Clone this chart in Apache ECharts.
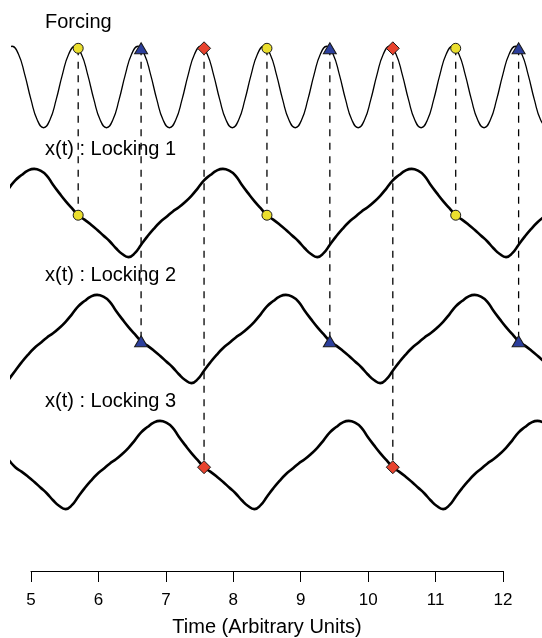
<!DOCTYPE html>
<html>
<head>
<meta charset="utf-8">
<script src="https://cdn.jsdelivr.net/npm/echarts@6/dist/echarts.min.js"></script>
<style>
  html, body { margin: 0; padding: 0; background: #ffffff; }
  #chart { width: 542px; height: 638px; }
</style>
</head>
<body>
<div id="chart"></div>
<script>
// ---- sampled signals (arbitrary amplitude units) ----
// sampling grid: t = start + i * step
const STEP = 0.0933333;
const FORCING_START = 4.62667;
const LOCKING_START = 4.67333;

const forcing = [
  0.81,
  1.00, 0.81, 0.31, -0.31, -0.81, -1.00, -0.81, -0.31, 0.31, 0.81,
  1.00, 0.81, 0.31, -0.31, -0.81, -1.00, -0.81, -0.31, 0.31, 0.81,
  1.00, 0.81, 0.31, -0.31, -0.81, -1.00, -0.81, -0.31, 0.31, 0.81,
  1.00, 0.81, 0.31, -0.31, -0.81, -1.00, -0.81, -0.31, 0.31, 0.81,
  1.00, 0.81, 0.31, -0.31, -0.81, -1.00, -0.81, -0.31, 0.31, 0.81,
  1.00, 0.81, 0.31, -0.31, -0.81, -1.00, -0.81, -0.31, 0.31, 0.81,
  1.00, 0.81, 0.31, -0.31, -0.81, -1.00, -0.81, -0.31, 0.31, 0.81,
  1.00, 0.81, 0.31, -0.31, -0.81, -1.00, -0.81, -0.31, 0.31, 0.81,
  1.00, 0.81, 0.31, -0.31, -0.81, -1.00
];

const locking1 = [
  0.56, 0.74, 0.86, 0.96,
  1.00, 0.96, 0.85, 0.64, 0.45, 0.27, 0.11, -0.05, -0.15, -0.26, -0.38, -0.51, -0.64, -0.80, -0.93,
  -1.00, -0.91, -0.72, -0.53, -0.36, -0.21, -0.09, 0.03, 0.13, 0.25, 0.39, 0.56, 0.74, 0.86, 0.96,
  1.00, 0.96, 0.85, 0.64, 0.45, 0.27, 0.11, -0.05, -0.15, -0.26, -0.38, -0.51, -0.64, -0.80, -0.93,
  -1.00, -0.91, -0.72, -0.53, -0.36, -0.21, -0.09, 0.03, 0.13, 0.25, 0.39, 0.56, 0.74, 0.86, 0.96,
  1.00, 0.96, 0.85, 0.64, 0.45, 0.27, 0.11, -0.05, -0.15, -0.26, -0.38, -0.51, -0.64, -0.80, -0.93,
  -1.00, -0.91, -0.72, -0.53, -0.36, -0.21, -0.09
];

const locking2 = [
  -0.91, -0.72, -0.53, -0.36, -0.21, -0.09, 0.03, 0.13, 0.25, 0.39, 0.56, 0.74, 0.86, 0.96,
  1.00, 0.96, 0.85, 0.64, 0.45, 0.27, 0.11, -0.05, -0.15, -0.26, -0.38, -0.51, -0.64, -0.80, -0.93,
  -1.00, -0.91, -0.72, -0.53, -0.36, -0.21, -0.09, 0.03, 0.13, 0.25, 0.39, 0.56, 0.74, 0.86, 0.96,
  1.00, 0.96, 0.85, 0.64, 0.45, 0.27, 0.11, -0.05, -0.15, -0.26, -0.38, -0.51, -0.64, -0.80, -0.93,
  -1.00, -0.91, -0.72, -0.53, -0.36, -0.21, -0.09, 0.03, 0.13, 0.25, 0.39, 0.56, 0.74, 0.86, 0.96,
  1.00, 0.96, 0.85, 0.64, 0.45, 0.27, 0.11, -0.05, -0.15, -0.26, -0.38, -0.51
];

const locking3 = [
  0.11, -0.05, -0.15, -0.26, -0.38, -0.51, -0.64, -0.80, -0.93,
  -1.00, -0.91, -0.72, -0.53, -0.36, -0.21, -0.09, 0.03, 0.13, 0.25, 0.39, 0.56, 0.74, 0.86, 0.96,
  1.00, 0.96, 0.85, 0.64, 0.45, 0.27, 0.11, -0.05, -0.15, -0.26, -0.38, -0.51, -0.64, -0.80, -0.93,
  -1.00, -0.91, -0.72, -0.53, -0.36, -0.21, -0.09, 0.03, 0.13, 0.25, 0.39, 0.56, 0.74, 0.86, 0.96,
  1.00, 0.96, 0.85, 0.64, 0.45, 0.27, 0.11, -0.05, -0.15, -0.26, -0.38, -0.51, -0.64, -0.80, -0.93,
  -1.00, -0.91, -0.72, -0.53, -0.36, -0.21, -0.09, 0.03, 0.13, 0.25, 0.39, 0.56, 0.74, 0.86, 0.96,
  1.00, 0.96
];

// instants where each locking state meets a forcing crest
const circleTimes = [5.700, 8.500, 11.300];
const triangleTimes = [6.633, 9.433, 12.233];
const diamondTimes = [7.567, 10.367];
const forcingAtMark = 0.95;   // forcing level at the marked instants
const lockingAtMark = -0.05;  // response level at the marked instants

const tickValues = [5, 6, 7, 8, 9, 10, 11, 12];
const panelTitles = ['Forcing', 'x(t) : Locking 1', 'x(t) : Locking 2', 'x(t) : Locking 3'];
const axisTitle = 'Time (Arbitrary Units)';

// ---- layout ----
const FONT = '"Liberation Sans", Arial, Helvetica, sans-serif';
const X_MIN = 4.72, X_MAX = 12.58;
const PX_PER_UNIT = 472 / 7;
const AXIS_LEFT = 31;
const PANEL = { forcing: 9, lock1: 6, lock2: 3, lock3: 0 };   // vertical centres
const GAIN_F = 0.97, GAIN_L = 1.05;
const TITLE_Y = [22, 149, 275, 401];

const place = (start, vals, centre, gain) =>
  vals.map((v, i) => [start + i * STEP, centre + gain * v]);

const curve = (data, width) => ({
  type: 'line', xAxisIndex: 0, yAxisIndex: 0, data,
  smooth: 0.5, showSymbol: false, silent: true, z: 3,
  lineStyle: { color: '#000', width }
});

const connectors = [];
const addConnectors = (times, panel) => times.forEach(t => connectors.push({
  type: 'line', xAxisIndex: 0, yAxisIndex: 0, silent: true, z: 2,
  showSymbol: false,
  data: [[t, PANEL.forcing + GAIN_F * forcingAtMark], [t, panel + GAIN_L * lockingAtMark]],
  lineStyle: { color: '#000', width: 1.3, type: [7, 6.5] }
}));
addConnectors(circleTimes, PANEL.lock1);
addConnectors(triangleTimes, PANEL.lock2);
addConnectors(diamondTimes, PANEL.lock3);

const markers = (times, panel, symbol, size, color) => ({
  type: 'scatter', xAxisIndex: 0, yAxisIndex: 0, silent: true, z: 5,
  symbol, symbolSize: size,
  itemStyle: { color, borderColor: '#1a1a1a', borderWidth: 1, opacity: 1 },
  data: times.flatMap(t => [
    [t, PANEL.forcing + GAIN_F * forcingAtMark],
    [t, panel + GAIN_L * lockingAtMark]
  ])
});

const chart = echarts.init(document.getElementById('chart'), null, { renderer: 'canvas' });
chart.setOption({
  animation: false,
  backgroundColor: '#ffffff',
  grid: [
    { left: AXIS_LEFT - (5 - X_MIN) * PX_PER_UNIT, width: (X_MAX - X_MIN) * PX_PER_UNIT,
      top: 3, height: 546 },
    { left: AXIS_LEFT, width: 7 * PX_PER_UNIT, top: 570, height: 1 }
  ],
  xAxis: [
    { gridIndex: 0, type: 'value', min: X_MIN, max: X_MAX, show: false },
    { gridIndex: 1, type: 'value', min: tickValues[0], max: tickValues[tickValues.length - 1],
      interval: 1,
      axisLine: { show: true, lineStyle: { color: '#000', width: 1 } },
      axisTick: { show: true, length: 11, lineStyle: { color: '#000', width: 1 } },
      axisLabel: { color: '#000', fontSize: 17, fontFamily: FONT, margin: 21,
        formatter: v => String(v) },
      splitLine: { show: false },
      name: axisTitle, nameLocation: 'middle', nameGap: 46,
      nameTextStyle: { color: '#000', fontSize: 20, fontFamily: FONT } }
  ],
  yAxis: [
    { gridIndex: 0, type: 'value', min: -2, max: 11, show: false },
    { gridIndex: 1, type: 'value', min: 0, max: 1, show: false }
  ],
  graphic: panelTitles.map((text, i) => ({
    type: 'text', x: 45, y: TITLE_Y[i], z: 10, silent: true,
    style: { text, fill: '#000', font: '20px ' + FONT,
      verticalAlign: 'middle', textVerticalAlign: 'middle' }
  })),
  series: [
    ...connectors,
    curve(place(FORCING_START, forcing, PANEL.forcing, GAIN_F), 1.3),
    curve(place(LOCKING_START, locking1, PANEL.lock1, GAIN_L), 2.6),
    curve(place(LOCKING_START, locking2, PANEL.lock2, GAIN_L), 2.6),
    curve(place(LOCKING_START, locking3, PANEL.lock3, GAIN_L), 2.6),
    markers(circleTimes, PANEL.lock1, 'circle', 10, '#ebdf2e'),
    markers(triangleTimes, PANEL.lock2, 'triangle', [13, 11], '#2c3f9c'),
    markers(diamondTimes, PANEL.lock3, 'diamond', 13, '#e8432e')
  ]
});
</script>
</body>
</html>
